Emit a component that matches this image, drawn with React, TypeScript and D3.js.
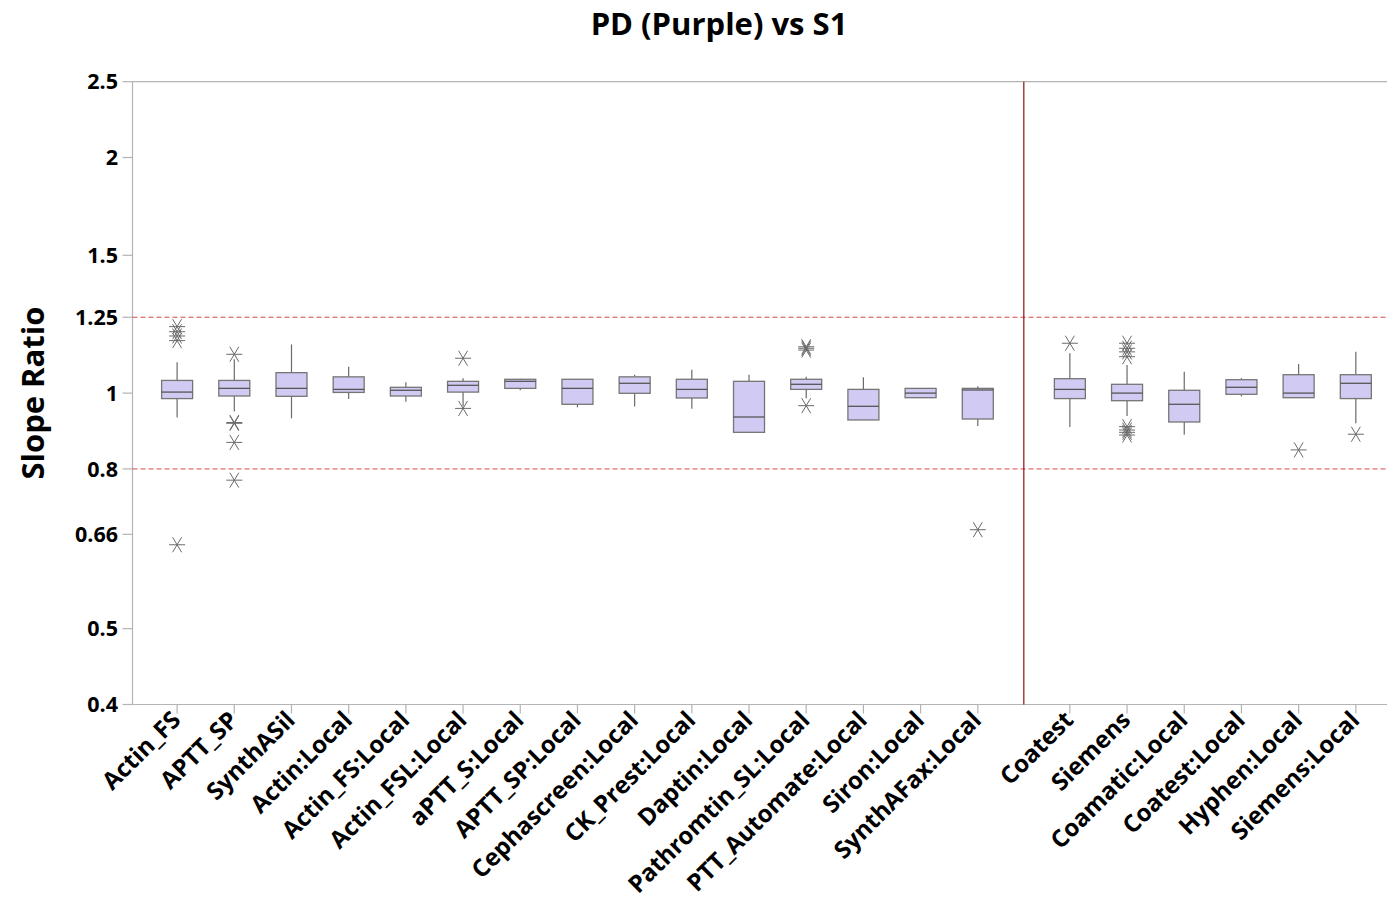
import React from "react";
import * as d3 from "d3";

const title = "PD (Purple) vs S1";
const yLabel = "Slope Ratio";
const yTicks = [0.4, 0.5, 0.66, 0.8, 1, 1.25, 1.5, 2, 2.5];
const refLines = [0.8, 1.25];

const group1 = [
  "Actin_FS", "APTT_SP", "SynthASil", "Actin:Local", "Actin_FS:Local",
  "Actin_FSL:Local", "aPTT_S:Local", "APTT_SP:Local", "Cephascreen:Local",
  "CK_Prest:Local", "Daptin:Local", "Pathromtin_SL:Local", "PTT_Automate:Local",
  "Siron:Local", "SynthAFax:Local",
];
const group2 = [
  "Coatest", "Siemens", "Coamatic:Local", "Coatest:Local", "Hyphen:Local", "Siemens:Local",
];

// [whiskerLow, q1, median, q3, whiskerHigh]
const boxStats: number[][] = [
  [0.931, 0.984, 1.003, 1.038, 1.095],
  [0.947, 0.9915, 1.014, 1.038, 1.105],
  [0.9285, 0.9906, 1.014, 1.062, 1.154],
  [0.983, 1.002, 1.011, 1.049, 1.081],
  [0.975, 0.9915, 1.0083, 1.0172, 1.0323],
  [0.961, 1.003, 1.0232, 1.0353, 1.045],
  [1.0083, 1.014, 1.0353, 1.0415, 1.043],
  [0.959, 0.9676, 1.014, 1.0415, 1.0415],
  [0.961, 0.9994, 1.0293, 1.049, 1.0556],
  [0.955, 0.9857, 1.011, 1.0415, 1.0713],
  [0.891, 0.891, 0.9321, 1.0353, 1.0556],
  [0.9848, 1.011, 1.0262, 1.0415, 1.049],
  [0.924, 0.924, 0.9619, 1.011, 1.0476],
  [0.9866, 0.9866, 1.0, 1.014, 1.014],
  [0.9077, 0.9266, 1.0092, 1.014, 1.0202],
  [0.9051, 0.984, 1.011, 1.0433, 1.1242],
  [0.9349, 0.9779, 1.0, 1.0262, 1.0862],
  [0.8847, 0.9185, 0.9676, 1.0083, 1.065],
  [0.9906, 0.9965, 1.0172, 1.0402, 1.045],
  [0.9866, 0.9866, 1.0, 1.0556, 1.0894],
  [0.9149, 0.984, 1.0293, 1.0556, 1.1296],
];

const outliers: number[][] = [
  [1.216, 1.198, 1.183, 1.167, 0.64],
  [1.121, 0.917, 0.915, 0.865, 0.774],
  [],
  [],
  [],
  [1.108, 0.956],
  [],
  [],
  [],
  [],
  [],
  [1.146, 1.141, 1.135, 0.9636],
  [],
  [],
  [0.669],
  [1.158],
  [1.158, 1.141, 1.129, 1.113, 0.906, 0.897, 0.891, 0.884],
  [],
  [],
  [0.846],
  [0.886],
];

const W = 1387;
const H = 903;
const left = 132.5;
const top = 81.7;
const bottom = 704.5;
const GROUP_GAP = 0.61;

const categories = [...group1, ...group2];
const slot = (i: number) => (i < group1.length ? i : i + GROUP_GAP);
const dividerSlot = group1.length - 1 + (1 + GROUP_GAP) / 2;

export default function App() {
  const x = d3.scaleLinear().domain([-0.78, 21.4]).range([left, 1401]);
  const y = d3.scaleLog().domain([0.4, 2.5]).range([bottom, top]);
  const boxW = 31;
  const font = "'Open Sans', 'Noto Sans', sans-serif";
  const axisColor = "#b4b4b4";

  const star = (cx: number, cy: number, key: string) => (
    <g key={key} stroke="#6a6a6a" strokeWidth={1}>
      <line x1={cx - 8} y1={cy} x2={cx + 8} y2={cy} />
      <line x1={cx - 4.5} y1={cy - 7.5} x2={cx + 4.5} y2={cy + 7.5} />
      <line x1={cx + 4.5} y1={cy - 7.5} x2={cx - 4.5} y2={cy + 7.5} />
    </g>
  );

  return (
    <svg width={W} height={H} style={{ position: "absolute", left: 0, top: 0 }} fontFamily={font}>
      <rect x={0} y={0} width={W} height={H} fill="#fff" />
      <text x={719} y={35} textAnchor="middle" fontSize={31} fontWeight="bold">{title}</text>

      {/* frame */}
      <line x1={left} y1={top} x2={W} y2={top} stroke={axisColor} strokeWidth={1.2} />
      <line x1={left} y1={top} x2={left} y2={bottom} stroke={axisColor} strokeWidth={1.2} />
      <line x1={left} y1={bottom} x2={W} y2={bottom} stroke={axisColor} strokeWidth={1.2} />

      {/* y ticks */}
      {yTicks.map((t) => (
        <g key={"yt" + t}>
          <line x1={left - 10} x2={left} y1={y(t)} y2={y(t)} stroke={axisColor} strokeWidth={1.2} />
          <text x={118} y={y(t)} dy="0.36em" textAnchor="end" fontSize={21.5} fontWeight="bold">{t}</text>
        </g>
      ))}
      <text transform={`translate(44,${(top + bottom) / 2}) rotate(-90)`} textAnchor="middle" fontSize={31} fontWeight="bold">{yLabel}</text>

      {/* reference lines */}
      {refLines.map((r) => (
        <line key={"ref" + r} x1={left} x2={W} y1={y(r)} y2={y(r)} stroke="#e0474c" strokeWidth={1} strokeDasharray="5,3" />
      ))}

      {/* divider */}
      <line x1={x(dividerSlot)} x2={x(dividerSlot)} y1={top} y2={bottom} stroke="#8e1010" strokeWidth={1.2} />

      {/* x ticks and labels */}
      {categories.map((c, i) => {
        const cx = x(slot(i));
        return (
          <g key={"xt" + c}>
            <line x1={cx} x2={cx} y1={bottom} y2={bottom + 9} stroke={axisColor} strokeWidth={1.2} />
            <text transform={`translate(${cx + 5},${bottom + 17}) rotate(-45)`} textAnchor="end" fontSize={24} fontWeight="bold">{c}</text>
          </g>
        );
      })}

      {/* boxes */}
      {boxStats.map((s, i) => {
        const cx = x(slot(i));
        const [lo, q1, med, q3, hi] = s;
        return (
          <g key={"b" + i}>
            <line x1={cx} x2={cx} y1={y(hi)} y2={y(q3)} stroke="#6a6a6a" strokeWidth={1.2} />
            <line x1={cx} x2={cx} y1={y(q1)} y2={y(lo)} stroke="#6a6a6a" strokeWidth={1.2} />
            <rect x={cx - boxW / 2} y={y(q3)} width={boxW} height={Math.max(0.5, y(q1) - y(q3))} fill="#d1cbf3" stroke="#757575" strokeWidth={1.3} />
            <line x1={cx - boxW / 2} x2={cx + boxW / 2} y1={y(med)} y2={y(med)} stroke="#555" strokeWidth={1.3} />
            {outliers[i].map((o, k) => star(cx, y(o), `o${i}-${k}`))}
          </g>
        );
      })}
    </svg>
  );
}
